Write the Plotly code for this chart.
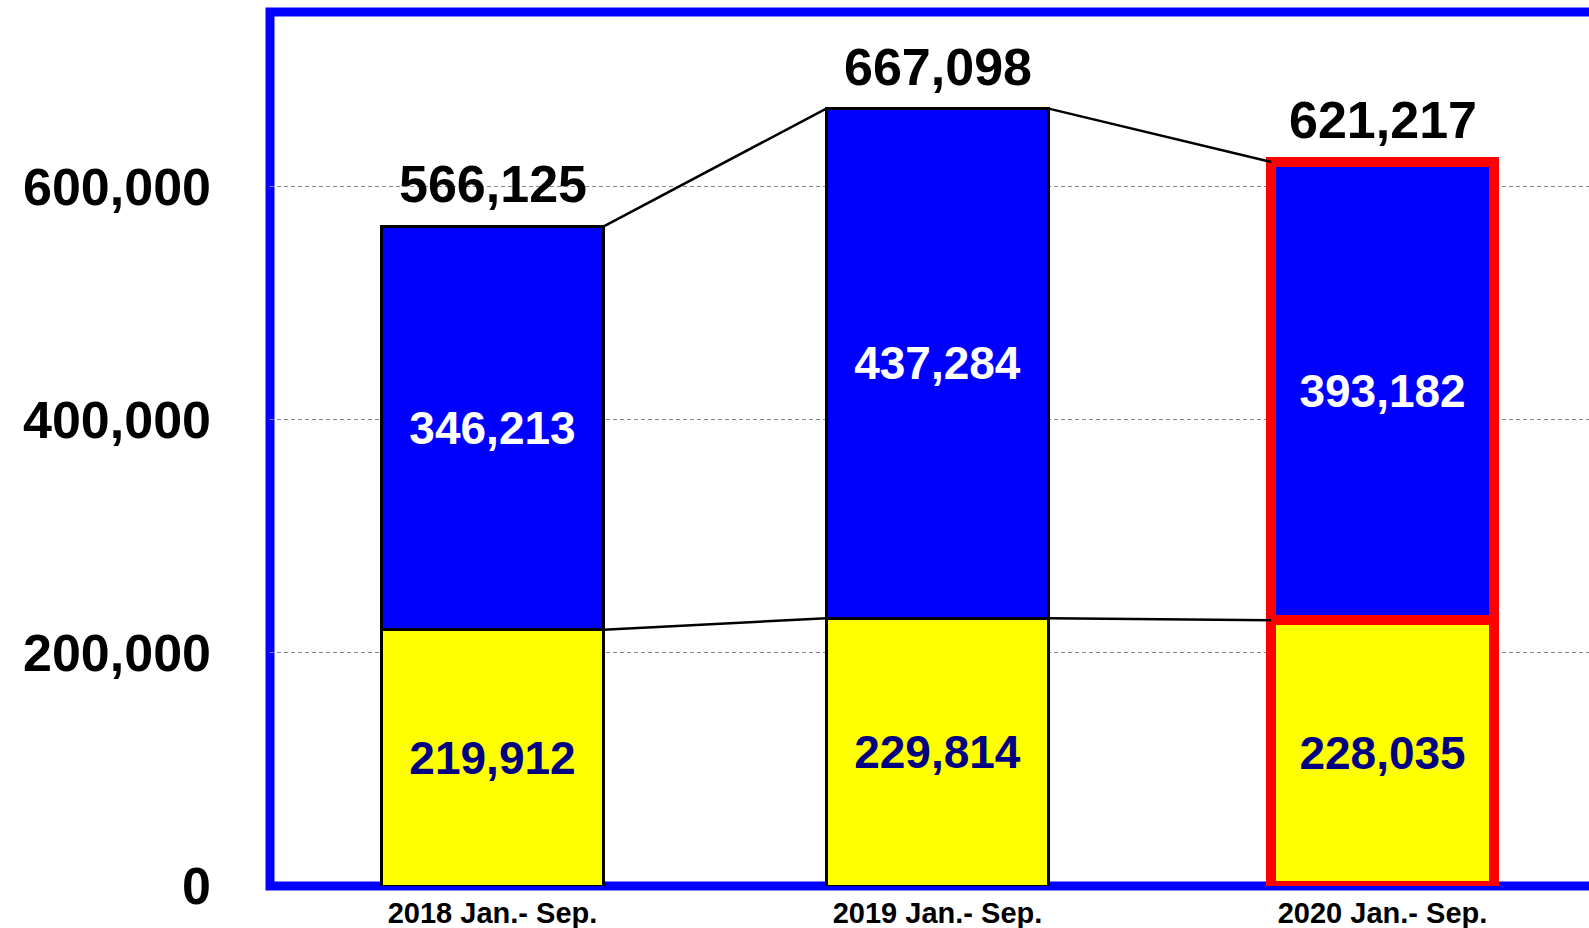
import plotly.graph_objects as go

# Periods and the two stacked components
periods = ["2018 Jan.- Sep.", "2019 Jan.- Sep.", "2020 Jan.- Sep."]
lower_values = [219912, 229814, 228035]
upper_values = [346213, 437284, 393182]
total_values = [566125, 667098, 621217]

y_tick_values = [0, 200000, 400000, 600000]
y_tick_labels = ["0", "200,000", "400,000", "600,000"]

FONT = "Liberation Sans, Arial, sans-serif"
x_pos = list(range(len(periods)))
outline_colors = ["black", "black", "#ff0000"]
outline_widths = [3, 3, 10]
bar_width = 0.5

fig = go.Figure()

fig.add_trace(go.Bar(
    x=x_pos, y=lower_values, width=bar_width,
    marker=dict(color="#ffff00", line=dict(color=outline_colors, width=outline_widths)),
    text=[f"{v:,}" for v in lower_values],
    textposition="inside", insidetextanchor="middle", constraintext="none",
    textfont=dict(family=FONT, size=46, color="#000080", weight="bold"),
    hoverinfo="skip", showlegend=False,
))
fig.add_trace(go.Bar(
    x=x_pos, y=upper_values, width=bar_width,
    marker=dict(color="#0000ff", line=dict(color=outline_colors, width=outline_widths)),
    text=[f"{v:,}" for v in upper_values],
    textposition="inside", insidetextanchor="middle", constraintext="none",
    textfont=dict(family=FONT, size=46, color="white", weight="bold"),
    hoverinfo="skip", showlegend=False,
))

# Connector lines between neighbouring bar corners
def connectors(levels):
    xs, ys = [], []
    for i in range(len(levels) - 1):
        xs += [i + bar_width / 2, i + 1 - bar_width / 2, None]
        ys += [levels[i], levels[i + 1], None]
    return xs, ys

for levels in (total_values, lower_values):
    cx, cy = connectors(levels)
    fig.add_trace(go.Scatter(
        x=cx, y=cy, mode="lines", line=dict(color="black", width=2.5),
        hoverinfo="skip", showlegend=False,
    ))

# Totals above each bar
for i, v in enumerate(total_values):
    fig.add_annotation(
        x=i, y=v, text=f"{v:,}", showarrow=False, yanchor="middle", yshift=42,
        font=dict(family=FONT, size=52, color="black", weight="bold"),
    )

# Blue frame around the plotting area
fig.add_shape(
    type="rect", xref="paper", yref="paper", x0=0, x1=1.05, y0=0, y1=1,
    line=dict(color="#0000ff", width=9), layer="between",
)

fig.update_layout(
    width=1589, height=928,
    margin=dict(l=270, r=0, t=12, b=42),
    paper_bgcolor="white", plot_bgcolor="white",
    barmode="stack",
    xaxis=dict(
        range=[-0.5, 2.464], tickvals=x_pos, ticktext=periods,
        showgrid=False, zeroline=False, showline=False, ticks="",
        tickfont=dict(family=FONT, size=29, color="black", weight="bold"),
        ticklabelstandoff=7,
    ),
    yaxis=dict(
        range=[0, 750000], tickvals=y_tick_values, ticktext=y_tick_labels,
        showgrid=True, gridcolor="#888888", gridwidth=1, griddash="4px,3px",
        zeroline=False, showline=False, ticks="",
        tickfont=dict(family=FONT, size=52, color="black", weight="bold"),
        ticklabelstandoff=58,
    ),
)

fig.write_html("out.html")
